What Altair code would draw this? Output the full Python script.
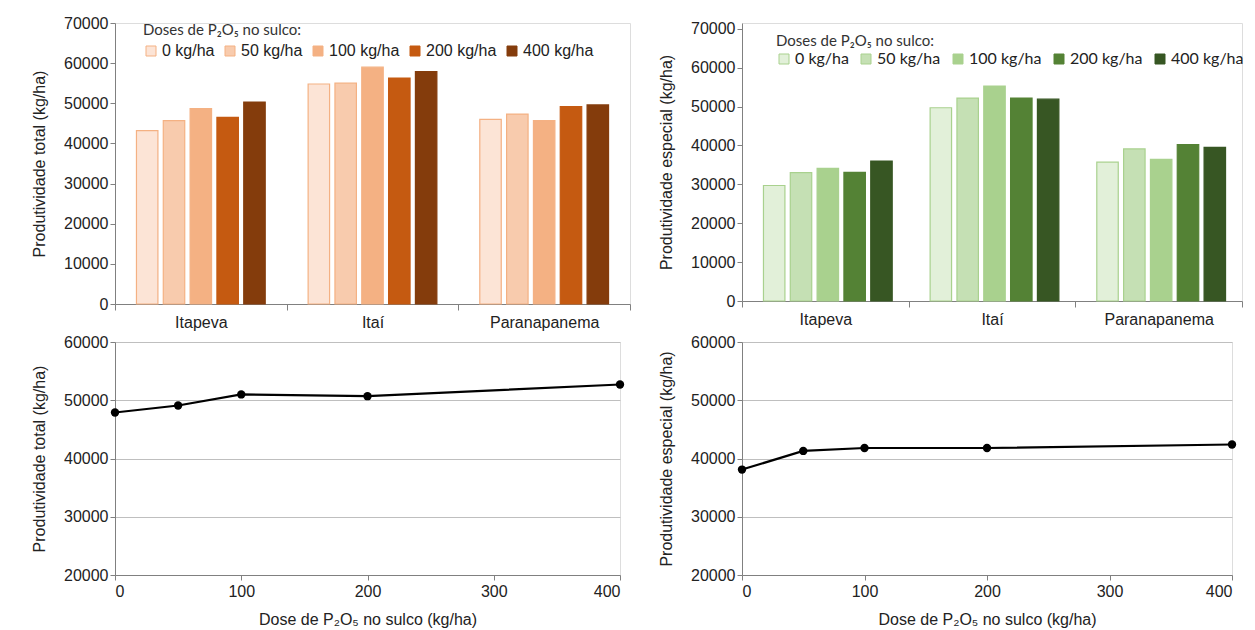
import altair as alt
import pandas as pd

locais = ["Itapeva", "Itaí", "Paranapanema"]
doses_lbl = ["0 kg/ha", "50 kg/ha", "100 kg/ha", "200 kg/ha", "400 kg/ha"]

total_itapeva = [43200, 45700, 48700, 46500, 50300]
total_itai = [54800, 55000, 59000, 56300, 57900]
total_paranapanema = [46000, 47300, 45700, 49200, 49600]

esp_itapeva = [29700, 33000, 34100, 33100, 36000]
esp_itai = [49700, 52200, 55300, 52200, 51900]
esp_paranapanema = [35700, 39100, 36400, 40200, 39500]

doses = [0, 50, 100, 200, 400]
total_media = [47900, 49100, 51000, 50700, 52700]
esp_media = [38100, 41300, 41800, 41800, 42400]

orange_fill = ["#FCE4D6", "#F8CBAD", "#F4B183", "#C55A11", "#843C0C"]
orange_stroke = ["#F4B183", "#F4B183", "#F4B183", "#C55A11", "#843C0C"]
green_fill = ["#E2F0D9", "#C5E0B4", "#A9D18E", "#548235", "#375623"]
green_stroke = ["#A9D18E", "#A9D18E", "#A9D18E", "#548235", "#375623"]

ARIAL = "Liberation Sans"
CAL = "Lato"


def bar_df(series):
    rows = []
    for loc, vals in zip(locais, series):
        for d, v in zip(doses_lbl, vals):
            rows.append({"local": loc, "dose": d, "valor": v})
    return pd.DataFrame(rows)


df_total = bar_df([total_itapeva, total_itai, total_paranapanema])
df_esp = bar_df([esp_itapeva, esp_itai, esp_paranapanema])
df_line_total = pd.DataFrame({"dose": doses, "valor": total_media})
df_line_esp = pd.DataFrame({"dose": doses, "valor": esp_media})

legend_title = "Doses de P₂O₅ no sulco:"


def bar_chart(df, fills, strokes, ytitle, w, h, ymax, lx, ly, lfont, colpad, tpad):
    leg = alt.Legend(title=legend_title, orient="none", legendX=lx, legendY=ly,
                     direction="horizontal", titleFont=CAL, titleFontSize=15,
                     titleFontWeight="normal", titleColor="#333333", titlePadding=tpad,
                     labelFont=lfont, labelFontSize=16, labelColor="#222222",
                     symbolType="square", symbolSize=100, symbolStrokeWidth=1,
                     labelOffset=3, columnPadding=colpad,
                     padding=0, titleAnchor="start")
    return alt.Chart(df).mark_bar(strokeWidth=1.2).encode(
        x=alt.X("local:N", sort=locais, title=None,
                scale=alt.Scale(paddingInner=0, paddingOuter=0),
                axis=alt.Axis(labelAngle=0, tickBand="extent", labelFont=ARIAL,
                              labelFontSize=16, labelColor="#222222",
                              domainColor="#808080", tickColor="#808080",
                              tickSize=6, labelPadding=4)),
        xOffset=alt.XOffset("dose:N", sort=doses_lbl,
                            scale=alt.Scale(paddingInner=0.2, paddingOuter=0.8)),
        y=alt.Y("valor:Q", scale=alt.Scale(domain=[0, ymax], nice=False),
                axis=alt.Axis(
                    title=ytitle, grid=False, format="d", titlePadding=16,
                    titleFont=ARIAL, titleFontSize=16, titleFontWeight="normal",
                    titleColor="#222222", labelFont=ARIAL, labelFontSize=16,
                    labelColor="#222222", domainColor="#808080", tickColor="#808080",
                    tickSize=5, labelPadding=2,
                    values=[0, 10000, 20000, 30000, 40000, 50000, 60000, 70000])),
        color=alt.Color("dose:N", sort=doses_lbl,
                        scale=alt.Scale(domain=doses_lbl, range=fills), legend=leg),
        stroke=alt.Stroke("dose:N", sort=doses_lbl,
                          scale=alt.Scale(domain=doses_lbl, range=strokes), legend=leg),
    ).properties(width=w, height=h)


def line_chart(df, ytitle, w, h):
    base = alt.Chart(df).encode(
        x=alt.X("dose:Q", scale=alt.Scale(domain=[0, 400]),
                axis=alt.Axis(title="Dose de P₂O₅ no sulco (kg/ha)", grid=False,
                              values=[0, 100, 200, 300, 400], titleFont=ARIAL,
                              titleFontSize=16, titleFontWeight="normal",
                              titleColor="#222222", labelFont=ARIAL, labelFontSize=16,
                              labelColor="#222222", domainColor="#808080",
                              tickColor="#808080", tickSize=5, labelPadding=3,
                              titlePadding=12)),
        y=alt.Y("valor:Q", scale=alt.Scale(domain=[20000, 60000]),
                axis=alt.Axis(title=ytitle, grid=True, gridColor="#BFBFBF", format="d",
                              values=[20000, 30000, 40000, 50000, 60000],
                              titlePadding=16, titleFont=ARIAL, titleFontSize=16,
                              titleFontWeight="normal", titleColor="#222222",
                              labelFont=ARIAL, labelFontSize=16, labelColor="#222222",
                              domainColor="#808080", tickColor="#808080", tickSize=5,
                              labelPadding=2)),
    )
    line = base.mark_line(color="black", strokeWidth=2.2)
    pts = base.mark_point(filled=True, color="black", size=70, opacity=1)
    return (line + pts).properties(width=w, height=h)


A = bar_chart(df_total, orange_fill, orange_stroke, "Produtividade total (kg/ha)",
              515, 281, 70000, 28, 0, ARIAL, 7, 5)
B = bar_chart(df_esp, green_fill, green_stroke, "Produtividade especial (kg/ha)",
              500, 278, 71500, 34, 11, CAL, 9, 2)
C = line_chart(df_line_total, "Produtividade total (kg/ha)", 505, 233)
D = line_chart(df_line_esp, "Produtividade especial (kg/ha)", 490, 233)

chart = alt.hconcat(
    alt.vconcat(A, C, spacing=2),
    alt.vconcat(B, D, spacing=5),
    spacing=27,
).resolve_scale(color="independent", stroke="independent").properties(
    padding={"left": 23, "top": 6, "right": 0, "bottom": 0}
).configure_view(stroke=None).configure(background="white")

chart.save("out.html", embed_options={"renderer": "svg", "actions": False})
